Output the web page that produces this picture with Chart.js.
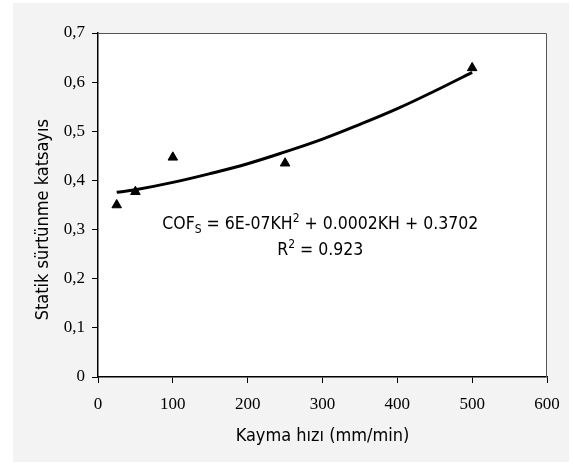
<!DOCTYPE html>
<html>
<head>
<meta charset="utf-8">
<script src="https://cdn.jsdelivr.net/npm/chart.js@4.4.1/dist/chart.umd.min.js"></script>
<style>
  body { margin: 0; background: #fff; }
  #wrap { width: 573px; height: 465px; }
</style>
</head>
<body>
<div id="wrap"><canvas id="cofChart"></canvas></div>
<script>
// measured points (triangles)
const speeds = [25, 50, 100, 250, 500];
const cofValues = [0.35, 0.377, 0.447, 0.435, 0.629];

// trendline
const trendX = [25, 50, 100, 150, 200, 250, 300, 350, 400, 450, 500];
const trendY = [0.376, 0.381, 0.396, 0.414, 0.434, 0.458, 0.484, 0.514, 0.546, 0.582, 0.620];

const xTitle = 'Kayma hızı (mm/min)';
const yTitle = 'Statik sürtünme katsayıs';
const eqLine1 = [['COF', 0], ['S', 1], [' = 6E-07KH', 0], ['2', -1], [' + 0.0002KH + 0.3702', 0]];
const eqLine2 = [['R', 0], ['2', -1], [' = 0.923', 0]];

const sansFont = "'DejaVu Sans Condensed', 'DejaVu Sans', sans-serif";
const serifFont = "'Liberation Serif', 'Times New Roman', serif";

function drawRich(ctx, parts, cx, baseline, size) {
    const small = Math.round(size * 0.68);
    let total = 0;
    parts.forEach(([t, k]) => {
        ctx.font = (k === 0 ? size : small) + 'px ' + sansFont;
        total += ctx.measureText(t).width;
    });
    let x = cx - total / 2;
    parts.forEach(([t, k]) => {
        ctx.font = (k === 0 ? size : small) + 'px ' + sansFont;
        const dy = k === 1 ? 4 : (k === -1 ? -7 : 0);
        ctx.fillText(t, x, baseline + dy);
        x += ctx.measureText(t).width;
    });
}

const framePlugin = {
    id: 'frame',
    beforeDraw(chart) {
        const ctx = chart.ctx;
        const a = chart.chartArea;
        ctx.save();
        ctx.fillStyle = '#ffffff';
        ctx.fillRect(0, 0, chart.width, chart.height);
        ctx.fillStyle = '#f3f3f3';
        ctx.fillRect(13, 3, 556, 459);
        ctx.fillStyle = '#ffffff';
        ctx.fillRect(a.left, a.top, a.right - a.left, a.bottom - a.top);
        ctx.restore();
    },
    beforeDatasetsDraw(chart) {
        const ctx = chart.ctx;
        const a = chart.chartArea;
        ctx.save();
        ctx.strokeStyle = '#555555';
        ctx.lineWidth = 1;
        ctx.beginPath();
        ctx.moveTo(a.left, a.top + 0.5);
        ctx.lineTo(a.right - 0.5, a.top + 0.5);
        ctx.lineTo(a.right - 0.5, a.bottom);
        ctx.stroke();
        ctx.restore();
    },
    afterDraw(chart) {
        const ctx = chart.ctx;
        const xs = chart.scales.x, ys = chart.scales.y;
        ctx.save();
        ctx.fillStyle = '#000';
        ctx.textAlign = 'left';
        ctx.textBaseline = 'alphabetic';
        const cx = xs.getPixelForValue(297);
        drawRich(ctx, eqLine1, cx, ys.getPixelForValue(0.301), 17.5);
        drawRich(ctx, eqLine2, cx, ys.getPixelForValue(0.248), 17.5);

        // y axis title
        ctx.translate(43, ys.getPixelForValue(0.32));
        ctx.rotate(-Math.PI / 2);
        ctx.font = '18px ' + sansFont;
        ctx.textAlign = 'center';
        ctx.textBaseline = 'middle';
        ctx.fillText(yTitle, 0, 0);
        ctx.restore();
    }
};

new Chart(document.getElementById('cofChart'), {
    type: 'scatter',
    data: {
        datasets: [{
            label: 'trend',
            data: trendX.map((x, i) => ({ x: x, y: trendY[i] })),
            showLine: true,
            borderColor: '#000',
            borderWidth: 3,
            pointRadius: 0,
            tension: 0.4,
            fill: false
        }, {
            label: 'COF',
            data: speeds.map((x, i) => ({ x: x, y: cofValues[i] })),
            pointStyle: 'triangle',
            pointRadius: 5.5,
            backgroundColor: '#000',
            borderColor: '#000',
            borderWidth: 1
        }]
    },
    options: {
        responsive: true,
        maintainAspectRatio: false,
        devicePixelRatio: 1,
        animation: false,
        layout: { padding: { top: 33, right: 26, left: 0, bottom: 0 } },
        plugins: {
            legend: { display: false },
            tooltip: { enabled: false }
        },
        scales: {
            x: {
                type: 'linear',
                min: 0,
                max: 600,
                afterFit: s => { s.height = 88; },
                ticks: { stepSize: 100, color: '#000', padding: 11, font: { family: serifFont, size: 17 } },
                grid: { drawOnChartArea: false, tickLength: 6, color: '#000' },
                border: { color: '#000', width: 1.5 },
                title: { display: true, text: xTitle, color: '#000', font: { family: sansFont, size: 18 }, padding: { top: 0, bottom: 18 } }
            },
            y: {
                min: 0,
                max: 0.7,
                afterFit: s => { s.width = 98; },
                ticks: {
                    stepSize: 0.1,
                    color: '#000',
                    padding: 7,
                    font: { family: serifFont, size: 17 },
                    callback: v => v === 0 ? '0' : v.toFixed(1).replace('.', ',')
                },
                grid: { drawOnChartArea: false, tickLength: 6, color: '#000' },
                border: { color: '#000', width: 1.5 }
            }
        }
    },
    plugins: [framePlugin]
});
</script>
</body>
</html>
